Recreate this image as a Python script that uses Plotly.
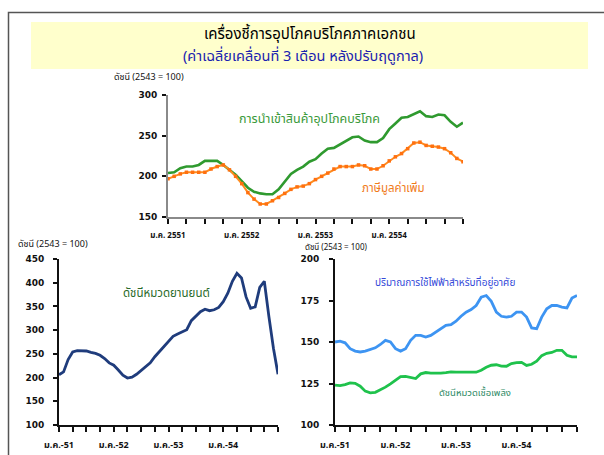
import plotly.graph_objects as go

W, H = 604, 455

# ---------------- data (monthly, Jan 2551 onward) ----------------
months = list(range(49))  # month index from ม.ค. 2551

imports_consumer = [204, 205, 210, 212, 212, 214, 219, 219, 219, 214, 208, 202,
                    194, 186, 181, 179, 178, 178, 184, 194, 203, 208, 212, 218,
                    221, 228, 234, 235, 239, 243, 248, 249, 244, 242, 242, 247,
                    258, 265, 272, 273, 277, 280, 274, 273, 276, 275, 267, 261, 266]
vat = [197, 200, 203, 205, 205, 205, 205, 209, 212, 214, 208, 200,
       191, 180, 172, 166, 166, 170, 174, 179, 184, 187, 188, 191,
       196, 200, 204, 209, 212, 212, 212, 214, 213, 209, 209, 213,
       219, 224, 228, 234, 241, 242, 238, 237, 236, 234, 229, 222, 218]
vehicles = [206, 212, 238, 254, 257, 257, 256, 253, 251, 247, 240, 231,
            226, 216, 205, 199, 201, 207, 215, 221, 231, 244, 255, 266,
            277, 287, 292, 297, 301, 320, 330, 339, 344, 341, 343, 348,
            360, 378, 403, 420, 410, 370, 346, 349, 390, 403, 329, 262, 207]
electricity = [150, 150.5, 149.5, 146, 144.5, 144, 144.5, 145.5, 146.5, 148.5, 151, 150,
               146, 144.5, 146, 151, 154, 154, 153, 154, 156, 158, 160, 160.5,
               162.5, 165.5, 168, 169.5, 172, 177, 178, 174.5, 168, 165.5, 165, 165.5,
               168, 168, 165, 158.5, 158, 165, 170, 172, 172, 171, 170.5, 176.5, 178]
fuel = [124, 123.7, 124.3, 125.4, 125.1, 123.4, 120.4, 119.4, 119.7, 121.2, 122.8, 124.8,
        126.8, 129.2, 129.3, 128.5, 128, 130.8, 131.6, 131.3, 131.2, 131.3, 131.6, 132,
        131.8, 131.8, 132.2, 132.2, 131.8, 133, 134.8, 136, 136.3, 135.5, 135.4, 137,
        137.6, 137.7, 135.9, 136.6, 138.5, 141.8, 143.2, 143.7, 145, 145, 142, 141, 141]

quarter_ticks = list(range(0, 49, 3))
top_labels = ["ม.ค. 2551", "ม.ค. 2552", "ม.ค. 2553", "ม.ค. 2554"]
bottom_labels = ["ม.ค.-51", "ม.ค.-52", "ม.ค.-53", "ม.ค.-54"]

def ticktext(labels):
    out = []
    for t in quarter_ticks:
        if t % 12 == 0 and t // 12 < len(labels):
            out.append(labels[t // 12])
        else:
            out.append("")
    return out

top_y_ticks = [150, 200, 250, 300]
left_y_ticks = [100, 150, 200, 250, 300, 350, 400, 450]
right_y_ticks = [100, 125, 150, 175, 200]

title1 = "เครื่องชี้การอุปโภคบริโภคภาคเอกชน"
title2 = "(ค่าเฉลี่ยเคลื่อนที่ 3 เดือน หลังปรับฤดูกาล)"
ylab = "ดัชนี (2543 = 100)"

FONT = "Tahoma, 'Noto Sans Thai', 'Noto Sans', 'DejaVu Sans', sans-serif"

def px_x(a, b):
    return [a / W, b / W]

def px_y(top, bottom):
    return [1 - bottom / H, 1 - top / H]

fig = go.Figure()

# top chart
fig.add_trace(go.Scatter(x=months, y=imports_consumer, mode="lines",
                         line=dict(color="#2f9a2f", width=2.6),
                         xaxis="x", yaxis="y", showlegend=False))
fig.add_trace(go.Scatter(x=months, y=vat, mode="lines+markers",
                         line=dict(color="#ff8c1f", width=2),
                         marker=dict(symbol="square", size=3.5, color="#ff7010"),
                         xaxis="x", yaxis="y", showlegend=False))
# bottom left
fig.add_trace(go.Scatter(x=months, y=vehicles, mode="lines",
                         line=dict(color="#1f3c7c", width=2.8),
                         xaxis="x2", yaxis="y2", showlegend=False))
# bottom right
fig.add_trace(go.Scatter(x=months, y=electricity, mode="lines",
                         line=dict(color="#3d94f2", width=2.8),
                         xaxis="x3", yaxis="y3", showlegend=False))
fig.add_trace(go.Scatter(x=months, y=fuel, mode="lines",
                         line=dict(color="#1fc24c", width=2.8),
                         xaxis="x3", yaxis="y3", showlegend=False))

tickfont = dict(family="Tahoma, 'DejaVu Sans', sans-serif", size=9, color="#111", weight="bold")

def xaxis(domain, anchor, labels, linecolor, lw, fs):
    return dict(domain=domain, anchor=anchor, range=[0, 48], tickmode="array",
                tickvals=quarter_ticks, ticktext=ticktext(labels), ticks="outside",
                ticklen=5, tickwidth=2, tickcolor="#111", showline=True,
                linecolor=linecolor, linewidth=lw, showgrid=False, zeroline=False,
                tickfont=dict(family=FONT, size=fs, color="#111", weight="bold"),
                ticklabelstandoff=5, automargin=False)

def yaxis(domain, anchor, rng, tv, linecolor, lw, standoff):
    return dict(domain=domain, anchor=anchor, range=rng, tickmode="array",
                tickvals=tv, ticks="outside", ticklen=4, tickwidth=1.5, tickcolor="#111",
                showline=True, linecolor=linecolor, linewidth=lw, showgrid=False,
                zeroline=False, tickfont=tickfont, ticklabelstandoff=standoff,
                automargin=False)

fig.update_layout(
    width=W, height=H, margin=dict(l=0, r=0, t=0, b=0, pad=0, autoexpand=False),
    paper_bgcolor="white", plot_bgcolor="rgba(0,0,0,0)",
    font=dict(family=FONT), hovermode=False,
    xaxis=xaxis(px_x(168, 463), "y", top_labels, "#8a8a8a", 1.6, 8),
    yaxis=yaxis(px_y(95, 217), "x", [150, 300], top_y_ticks, "#8a8a8a", 1.6, 3),
    xaxis2=xaxis(px_x(59, 278), "y2", bottom_labels, "#111", 2, 9),
    yaxis2=yaxis(px_y(259, 425), "x2", [100, 450], left_y_ticks, "#111", 2, 7),
    xaxis3=xaxis(px_x(335, 577), "y3", bottom_labels, "#111", 2, 9),
    yaxis3=yaxis(px_y(259, 425), "x3", [100, 200], right_y_ticks, "#111", 2, 8),
)

shapes = [
    dict(type="rect", xref="paper", yref="paper", x0=8.5 / W, x1=1.02,
         y0=-0.02, y1=1 - 12.5 / H, line=dict(color="#555", width=1.5),
         fillcolor="rgba(0,0,0,0)", layer="below"),
    dict(type="rect", xref="paper", yref="paper", x0=31 / W, x1=588 / W,
         y0=1 - 69 / H, y1=1 - 22 / H, line=dict(width=0),
         fillcolor="#ffffcc", layer="below"),
]
fig.update_layout(shapes=shapes)

def ann(text, x, y, size, color, xanchor="center"):
    return dict(text=text, x=x / W, y=1 - y / H, xref="paper", yref="paper",
                showarrow=False, xanchor=xanchor, yanchor="middle",
                font=dict(family=FONT, size=size, color=color))

annotations = [
    ann(title1, 310, 35, 15, "#000000"),
    ann(title2, 303, 57, 14.5, "#1a22b0"),
    ann(ylab, 112, 77, 9, "#111", "left"),
    ann(ylab, 16, 244, 9, "#111", "left"),
    ann(ylab, 303, 248, 8, "#111", "left"),
    ann("การนำเข้าสินค้าอุปโภคบริโภค", 309, 120, 12.5, "#3a9a3a"),
    ann("ภาษีมูลค่าเพิ่ม", 393, 188, 11.5, "#f07a1a"),
    ann("ดัชนีหมวดยานยนต์", 166, 293, 11.5, "#2a6a2a"),
    ann("ปริมาณการใช้ไฟฟ้าสำหรับที่อยู่อาศัย", 445, 283, 10, "#3348d8"),
    ann("ดัชนีหมวดเชื้อเพลิง", 475, 393, 9.5, "#2e8a66"),
]
fig.update_layout(annotations=annotations)

fig.write_html("out.html", config={"displayModeBar": False},
               post_script="document.body.style.margin='0px';")
